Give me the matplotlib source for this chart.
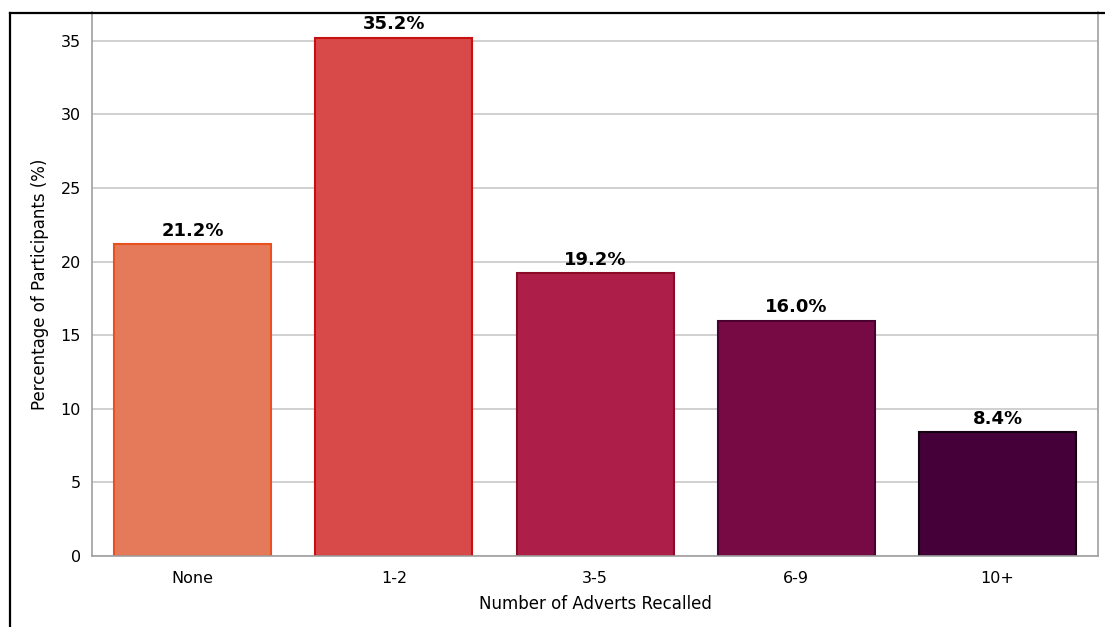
import numpy as np
import matplotlib
matplotlib.use("Agg")
from matplotlib import pyplot as plt
from matplotlib.lines import Line2D

# adverts recalled per participant
categories = ['None', '1-2', '3-5', '6-9', '10+']
percentages = [21.2, 35.2, 19.2, 16.0, 8.4]
bar_colors = ['#e57a5a', '#d84a4a', '#ad1f48', '#770a45', '#45003a']
edge_colors = ['#e8501e', '#c81010', '#8a0a28', '#4a0030', '#150010']

fig = plt.figure(figsize=(11.05, 6.27), dpi=100)
ax = fig.add_axes([0.0833, 0.1132, 0.9104, 0.8677])

x = np.arange(len(categories))
ax.bar(x, percentages, width=0.78, color=bar_colors, edgecolor=edge_colors,
       linewidth=1.5, zorder=2)

for xi, v in zip(x, percentages):
    ax.text(xi, v + 0.3, f'{v:.1f}%', ha='center', va='bottom',
            fontsize=13, fontweight='bold', zorder=3)

ax.set_xlim(-0.5, 4.5)
ax.set_ylim(0, 36.96)
ax.set_yticks([0, 5, 10, 15, 20, 25, 30, 35])
ax.set_xticks(x)
ax.set_xticklabels(categories)
ax.tick_params(length=0, labelsize=11.5, pad=8)
ax.tick_params(axis='x', pad=11)
ax.yaxis.grid(True, color='#c8c8c8', linewidth=1.2, zorder=0)
ax.set_axisbelow(True)
for side in ['left', 'right', 'bottom']:
    ax.spines[side].set_color('#a0a0a0')
    ax.spines[side].set_linewidth(1.2)
ax.spines['top'].set_visible(False)

ax.set_xlabel('Number of Adverts Recalled', fontsize=12, labelpad=6)
ax.set_ylabel('Percentage of Participants (%)', fontsize=12, labelpad=8)

# outer frame
fig.add_artist(Line2D([9.5 / 1105, 9.5 / 1105], [0, 1 - 12.5 / 627],
                      transform=fig.transFigure, color='black', linewidth=1.6))
fig.add_artist(Line2D([9.5 / 1105, 1], [1 - 12.5 / 627, 1 - 12.5 / 627],
                      transform=fig.transFigure, color='black', linewidth=1.6))

fig.savefig('out.png', dpi=100)
